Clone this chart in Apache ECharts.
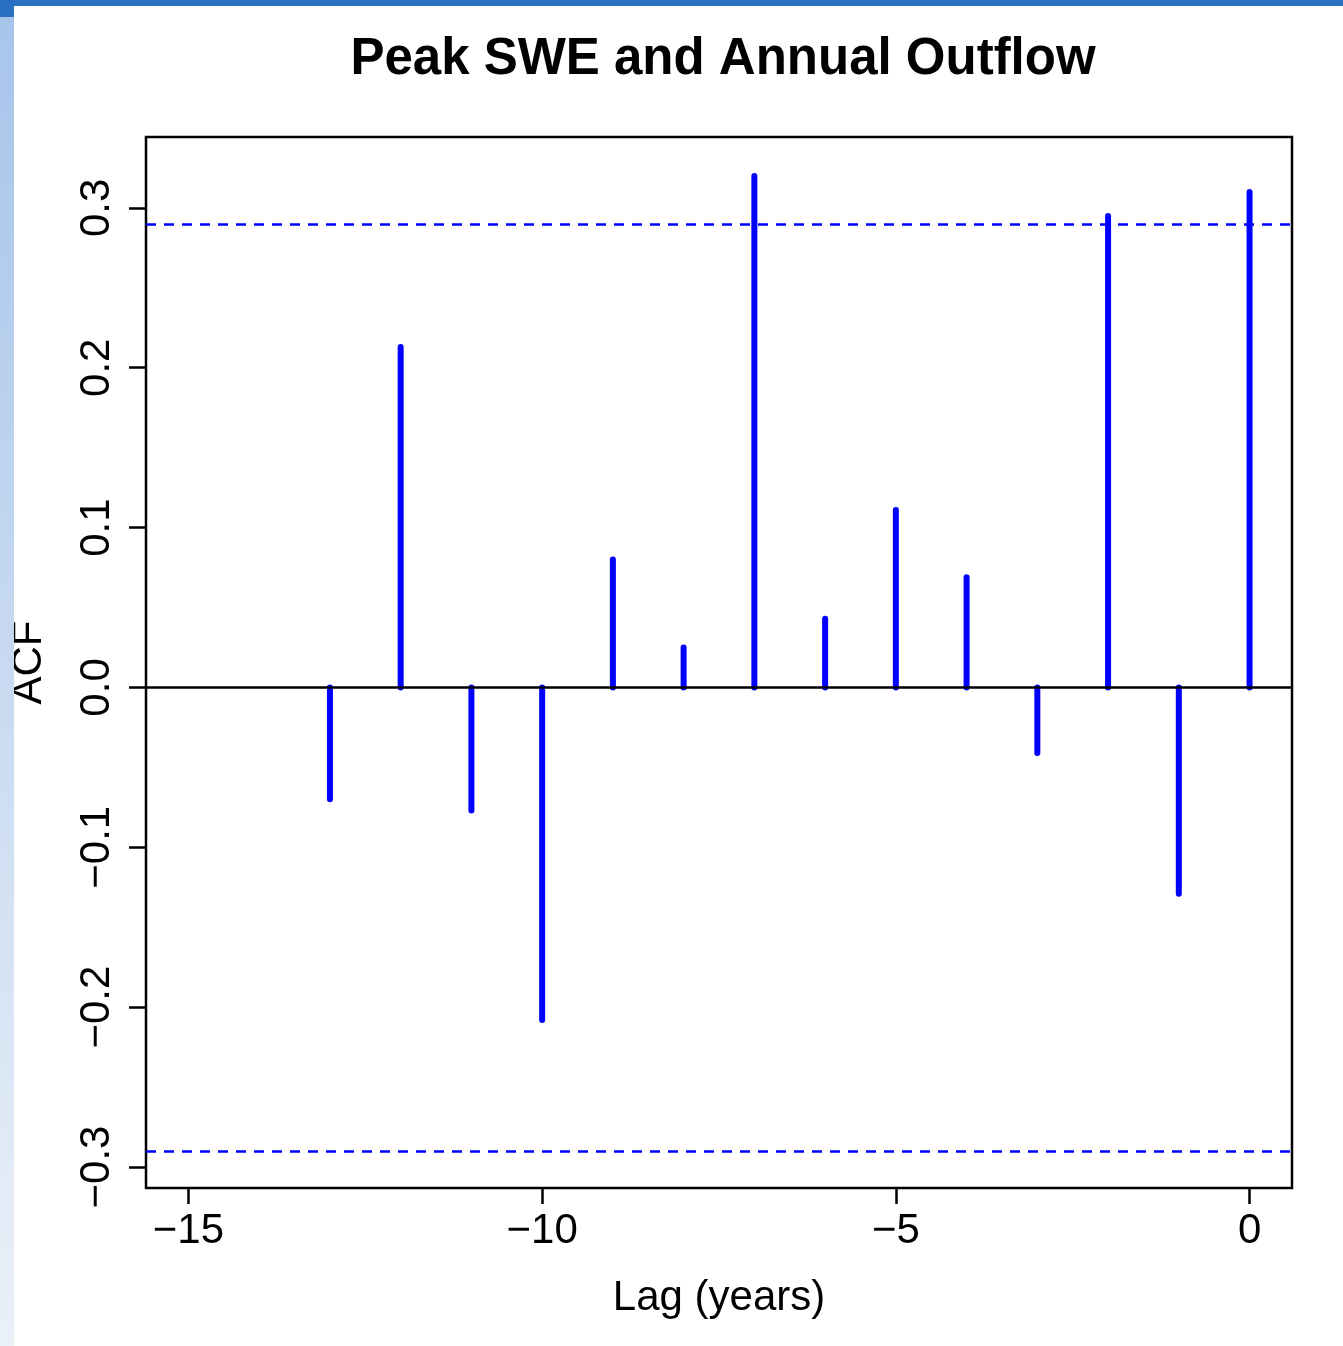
<!DOCTYPE html>
<html>
<head>
<meta charset="utf-8">
<script src="https://cdn.jsdelivr.net/npm/echarts@6/dist/echarts.min.js"></script>
<style>html,body{margin:0;padding:0;background:#fff}#c{width:1343px;height:1346px}</style>
</head>
<body>
<div id="c"></div>
<script>
const titleText = 'Peak SWE and Annual Outflow';
const xName = 'Lag (years)';
const yName = 'ACF';
const lags = [-13, -12, -11, -10, -9, -8, -7, -6, -5, -4, -3, -2, -1, 0];
const acf = [-0.070, 0.213, -0.077, -0.208, 0.080, 0.025, 0.320, 0.043, 0.111, 0.069, -0.041, 0.295, -0.129, 0.310];
const ciLevel = 0.2888;
const xTicks = [-15, -10, -5, 0];
const yTicks = [-0.3, -0.2, -0.1, 0.0, 0.1, 0.2, 0.3];

// R-style 4% axis extension
const xLo = -15, xHi = 0;
const xPad = 0.04 * (xHi - xLo);
const yLo = Math.min(-ciLevel, ...acf), yHi = Math.max(ciLevel, ...acf);
const yPad = 0.04 * (yHi - yLo);

const font = "'Liberation Sans', Arial, Helvetica, sans-serif";
const fmt = v => String(v).replace('-', '\u2212');
const fmtY = v => (Math.round(v * 10) / 10).toFixed(1).replace('-', '\u2212');

const chart = echarts.init(document.getElementById('c'), null, {renderer: 'canvas'});
chart.setOption({
  animation: false,
  backgroundColor: '#ffffff',
  graphic: [
    {type: 'rect', left: 0, top: 0, shape: {width: 1343, height: 6}, style: {fill: '#2b70c0'}, z: 100},
    {type: 'rect', left: 0, top: 0, shape: {width: 14, height: 1346}, style: {
      fill: new echarts.graphic.LinearGradient(0, 0, 0, 1, [
        {offset: 0, color: '#a6c4ea'}, {offset: 1, color: '#eaf0f8'}])}, z: 99},
    {type: 'rect', left: 0, top: 0, shape: {width: 14, height: 17}, style: {fill: '#2b70c0'}, z: 101}
  ],
  title: {
    text: titleText,
    left: 718, top: 29, textAlign: 'center',
    textStyle: {fontFamily: font, fontSize: 51, fontWeight: 'bold', color: '#000'}
  },
  grid: {left: 145, top: 137, width: 1147, height: 1051, show: true, borderColor: '#000', borderWidth: 2.5, backgroundColor: 'transparent'},
  xAxis: {
    type: 'value', min: xLo - xPad, max: xHi + xPad,
    name: xName, nameLocation: 'middle', nameGap: 89,
    nameTextStyle: {fontFamily: font, fontSize: 42, color: '#000'},
    axisLine: {show: false, onZero: false},
    splitLine: {show: false},
    axisTick: {show: true, customValues: xTicks, length: 16, inside: false, lineStyle: {color: '#000', width: 2.5}},
    axisLabel: {show: true, customValues: xTicks, formatter: fmt, margin: 22, fontFamily: font, fontSize: 42, color: '#000'}
  },
  yAxis: {
    type: 'value', min: yLo - yPad, max: yHi + yPad,
    name: yName, nameLocation: 'middle', nameGap: 96, nameRotate: 90,
    nameTextStyle: {fontFamily: font, fontSize: 42, color: '#000'},
    axisLine: {show: false, onZero: false},
    splitLine: {show: false},
    axisTick: {show: true, customValues: yTicks, length: 17, inside: false, lineStyle: {color: '#000', width: 2.5}},
    axisLabel: {show: true, customValues: yTicks, formatter: fmtY, rotate: 90, margin: 28, fontFamily: font, fontSize: 42, color: '#000'}
  },
  series: [
    {
      type: 'custom',
      data: lags.map((l, i) => [l, acf[i]]),
      z: 2,
      renderItem: (params, api) => {
        const x = api.value(0), v = api.value(1);
        const p0 = api.coord([x, 0]), p1 = api.coord([x, v]);
        return {type: 'line', shape: {x1: p0[0], y1: p0[1], x2: p1[0], y2: p1[1]},
          style: {stroke: '#0000ff', lineWidth: 6, lineCap: 'round'}};
      }
    },
    {
      type: 'line', data: [], z: 3, silent: true,
      markLine: {
        silent: true, symbol: ['none', 'none'], label: {show: false},
        data: [
          {yAxis: 0, lineStyle: {color: '#000', width: 2.5, type: 'solid'}},
          {yAxis: ciLevel, lineStyle: {color: '#0000ff', width: 2.5, type: [10, 8]}},
          {yAxis: -ciLevel, lineStyle: {color: '#0000ff', width: 2.5, type: [10, 8]}}
        ]
      }
    }
  ]
});
</script>
</body>
</html>
